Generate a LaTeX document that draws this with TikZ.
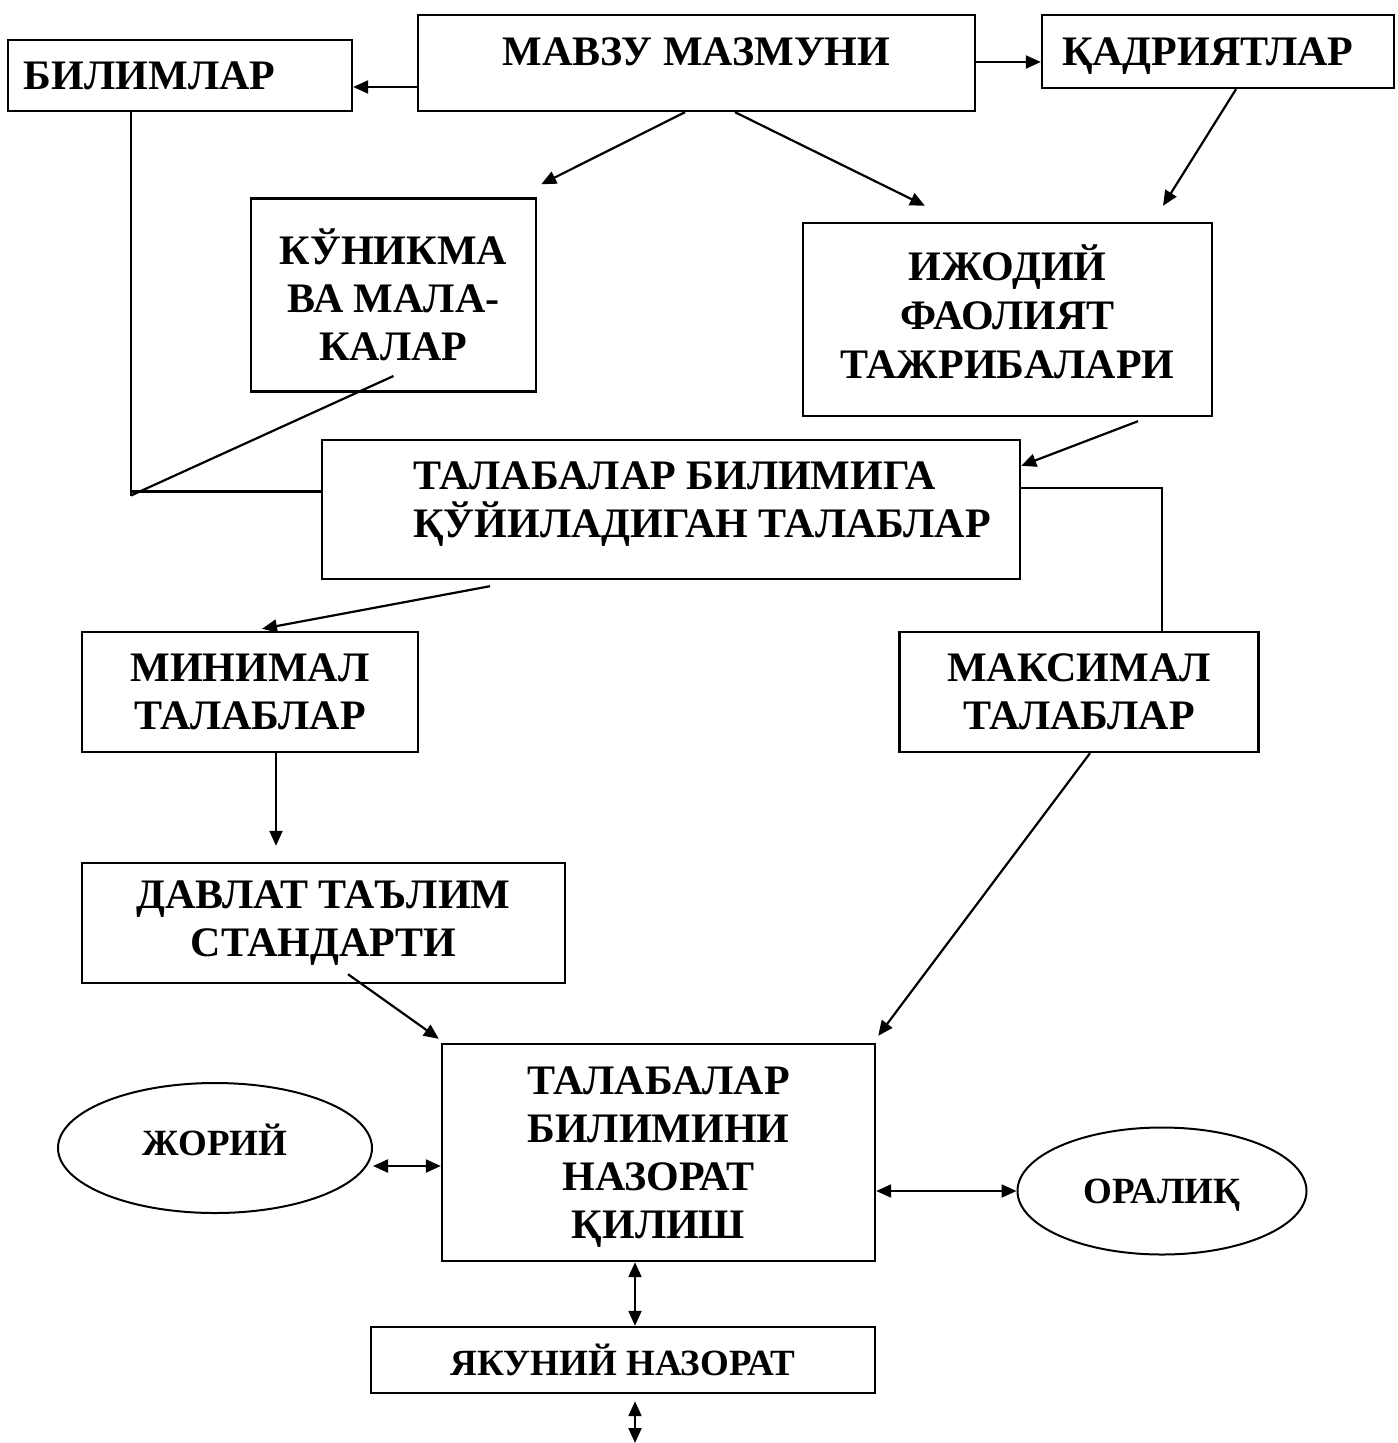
\documentclass[tikz,border=0pt]{standalone}
\usepackage{fontspec}
\setmainfont{Liberation Serif}
\usetikzlibrary{arrows.meta,shapes.geometric}
\begin{document}
\begin{tikzpicture}[x=0.5pt,y=-0.5pt,
  box/.style={draw, line width=1.2pt, rectangle, inner sep=0pt, align=center,
              font=\bfseries\fontsize{21}{24}\selectfont},
  txt/.style={inner sep=0pt, font=\bfseries\fontsize{21}{24}\selectfont},
  oval/.style={draw, line width=1pt, ellipse, inner sep=0pt,
              font=\bfseries\fontsize{18.5}{22}\selectfont},
  arr/.style={-{Triangle[length=7.5pt,width=6.5pt]}, line width=1.1pt},
  darr/.style={{Triangle[length=7.5pt,width=6.5pt]}-{Triangle[length=7.5pt,width=6.5pt]}, line width=1.1pt},
  ln/.style={line width=1.1pt}]
\useasboundingbox (0,0) rectangle (1397,1443);

% boxes
\node[box, minimum width=172pt, minimum height=35.5pt, text width=156pt, align=left] (bil) at (180,75.5) {БИЛИМЛАР};
\node[box, minimum width=278.5pt, minimum height=48pt, text depth=11pt] (mavzu) at (696.5,63) {МАВЗУ МАЗМУНИ};
\node[box, minimum width=176pt, minimum height=36.5pt, text width=156pt, align=left, text depth=0pt] (qadr) at (1218,51.5) {ҚАДРИЯТЛАР};
\node[box, minimum width=142.5pt, minimum height=96.5pt] (kun) at (393.5,295) {КЎНИКМА\\ВА МАЛА-\\КАЛАР};
\node[box, minimum width=204.5pt, minimum height=96.5pt, text depth=8pt, font=\bfseries\fontsize{21}{24.5}\selectfont] (ijod) at (1007.5,319.5) {ИЖОДИЙ\\ФАОЛИЯТ\\ТАЖРИБАЛАРИ};
\node[box, minimum width=349pt, minimum height=69.5pt] (tal1) at (671,509.5) {};
\node[txt, anchor=west, align=left] (tal1t) at (413,504) {ТАЛАБАЛАР БИЛИМИГА\\ҚЎЙИЛАДИГАН ТАЛАБЛАР};
\node[box, minimum width=168pt, minimum height=60pt] (mini) at (250,692) {МИНИМАЛ\\ТАЛАБЛАР};
\node[box, minimum width=179.5pt, minimum height=60pt] (maks) at (1079,692) {МАКСИМАЛ\\ТАЛАБЛАР};
\node[box, minimum width=241.5pt, minimum height=60pt] (davlat) at (323.5,923) {ДАВЛАТ ТАЪЛИМ\\СТАНДАРТИ};
\node[box, minimum width=216.5pt, minimum height=108.5pt, text depth=0pt] (naz) at (658.5,1152.5) {ТАЛАБАЛАР\\БИЛИМИНИ\\НАЗОРАТ\\ҚИЛИШ};
\node[box, minimum width=252pt, minimum height=33pt, font=\bfseries\fontsize{18.5}{22}\selectfont] (yak) at (623,1360) {ЯКУНИЙ НАЗОРАТ};
\node[oval, minimum width=157pt, minimum height=65pt, text depth=8pt] (jor) at (215,1148) {ЖОРИЙ};
\node[oval, minimum width=144.5pt, minimum height=63.5pt, text depth=0pt] (oral) at (1162,1191) {ОРАЛИҚ};

% top connectors
\draw[arr] ([yshift=-12pt]mavzu.west) -- ([yshift=-5.75pt]bil.east);
\coordinate (q1) at ([yshift=-5.25pt]qadr.west);
\draw[arr] (mavzu.east |- q1) -- (q1);
\draw[arr] ([xshift=-5.75pt]mavzu.south) -- ([xshift=2pt,yshift=6.5pt]kun.north east);
\draw[arr] ([xshift=19.25pt]mavzu.south) -- ([xshift=-41.25pt,yshift=8pt]ijod.north);
\draw[arr] ([xshift=9pt]qadr.south) -- ([xshift=77.75pt,yshift=8pt]ijod.north);

% left bracket lines
\coordinate (t1w) at ([yshift=9pt]tal1.west);
\coordinate (b1s) at ([xshift=-24.5pt]bil.south);
\coordinate (corner) at (b1s |- t1w);
\draw[ln] (b1s) -- ([yshift=-2pt]corner);
\draw[ln] (corner) -- (t1w);
\draw[ln] ([yshift=-40.5pt]kun.center) -- ([yshift=-2pt]corner);

% middle
\draw[arr] ([xshift=65.25pt,yshift=-2pt]ijod.south) -- ([yshift=-13.5pt]tal1.north east);
\draw[ln] ([yshift=10.75pt]tal1.east) -| ([xshift=41.5pt]maks.north);
\draw[arr] ([xshift=-90.5pt,yshift=-3pt]tal1.south) -- ([xshift=6pt,yshift=1pt]mini.north);
\draw[arr] ([xshift=13pt]mini.south) -- ([xshift=-23.75pt,yshift=8pt]davlat.north);
\draw[arr] ([xshift=12.25pt,yshift=5pt]davlat.south) -- ([xshift=-1pt,yshift=2pt]naz.north west);
\draw[arr] ([xshift=5.5pt]maks.south) -- ([xshift=1pt,yshift=3.5pt]naz.north east);

% bottom
\coordinate (n1) at ([yshift=-6.75pt]naz.west);
\draw[darr] (jor.east |- n1) -- (n1);
\draw[darr] (naz.east |- oral.west) -- (oral.west);
\coordinate (n2) at ([xshift=-11.75pt]naz.south);
\draw[darr] (n2) -- (n2 |- yak.north);
\coordinate (bot) at (635,1443);
\draw[darr] ([xshift=6pt,yshift=-3.5pt]yak.south) -- (bot);
\end{tikzpicture}
\end{document}
